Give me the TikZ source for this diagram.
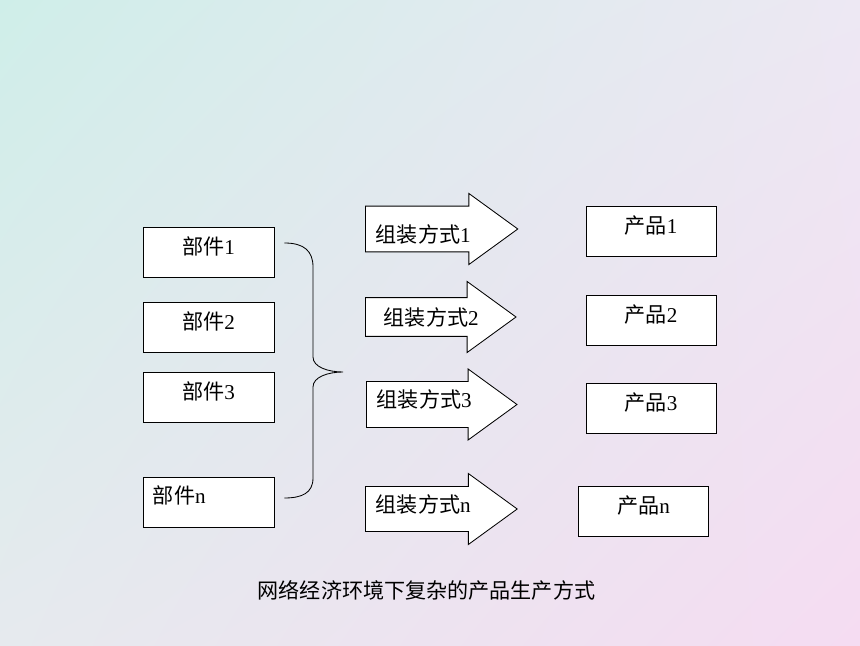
\documentclass[tikz,border=0pt]{standalone}
\usepackage{fontspec}
\setmainfont{Liberation Serif}
\newfontfamily\cjk{Noto Sans CJK SC}
\usepackage{tikz}
\usetikzlibrary{calc,shadings,shapes.arrows}
\definecolor{bgtl}{HTML}{CFEEE9}
\definecolor{bgtr}{HTML}{EDE8F3}
\definecolor{bgbl}{HTML}{E6EAEE}
\definecolor{bgbr}{HTML}{F5DCF2}
\tikzset{
	partbox/.style={draw, fill=white, line width=0.6pt, minimum width=3.275cm, minimum height=1.25cm, text height=13pt, text depth=10pt, font=\fontsize{15}{18}\selectfont},
	prodbox/.style={partbox, minimum width=3.25cm},
	waybox/.style={single arrow, draw, fill=white, line width=0.6pt, anchor=tail, minimum height=0pt, minimum width=1.775cm, single arrow head extend=0.2125cm, single arrow tip angle=72, inner xsep=0.25cm, inner ysep=0pt, text width=2.5cm, align=left, font=\fontsize{15}{18}\selectfont}
}

\begin{document}
\begin{tikzpicture}[x=0.025cm, y=0.025cm]
		%%%%% START %%%%%
		
		\shade[upper left=bgtl, upper right=bgtr, lower left=bgbl, lower right=bgbr] (0, 0) rectangle (860, 645);
		
		\node[partbox] (part1) at (208.5, 393) {{\cjk 部件}1};
		\node[partbox] (part2) at (208.5, 318) {{\cjk 部件}2};
		\node[partbox] (part3) at (208.5, 248) {{\cjk 部件}3};
		\node[partbox, text width=2.775cm, inner xsep=0.25cm, align=left, text depth=11pt] (partn) at (208.5, 143) {{\cjk 部件}n};
		
		\coordinate (bracetop) at ($(part1.east)+(10, 9)$);
		\coordinate (bracebot) at ($(partn.east)+(10, 4)$);
		\coordinate (bracetip) at (343, 273);
		\draw[line width=0.6pt] (bracetop) .. controls (304, 402) and (313, 394) .. (313, 378) -- (313, 288)
			.. controls (313, 278) and (328, 273) .. (bracetip)
			.. controls (328, 273) and (313, 268) .. (313, 258) -- (313, 167)
			.. controls (313, 152) and (302, 147) .. (bracebot);
		
		\node[waybox, text height=20pt] (way1) at (365, 416) {{\cjk 组装方式}1};
		\node[waybox, inner xsep=0.45cm, text width=2.175cm] (way2) at (365, 328) {{\cjk 组装方式}2};
		\node[waybox, text depth=9pt, text width=2.45cm] (way3) at (366, 240.5) {{\cjk 组装方式}3};
		\node[waybox, text depth=7.5pt] (wayn) at (365, 136) {{\cjk 组装方式}n};
		
		\node[prodbox] (prod1) at (651, 414) {{\cjk 产品}1};
		\node[prodbox] (prod2) at (651, 325) {{\cjk 产品}2};
		\node[prodbox] (prod3) at (651, 237) {{\cjk 产品}3};
		\node[prodbox] (prodn) at (643.5, 134) {{\cjk 产品}n};
		
		\node[font=\fontsize{15}{18}\selectfont\cjk] (caption) at (426.5, 55) {网络经济环境下复杂的产品生产方式};
		
		%%%%% END %%%%%
	\end{tikzpicture}
\end{document}
